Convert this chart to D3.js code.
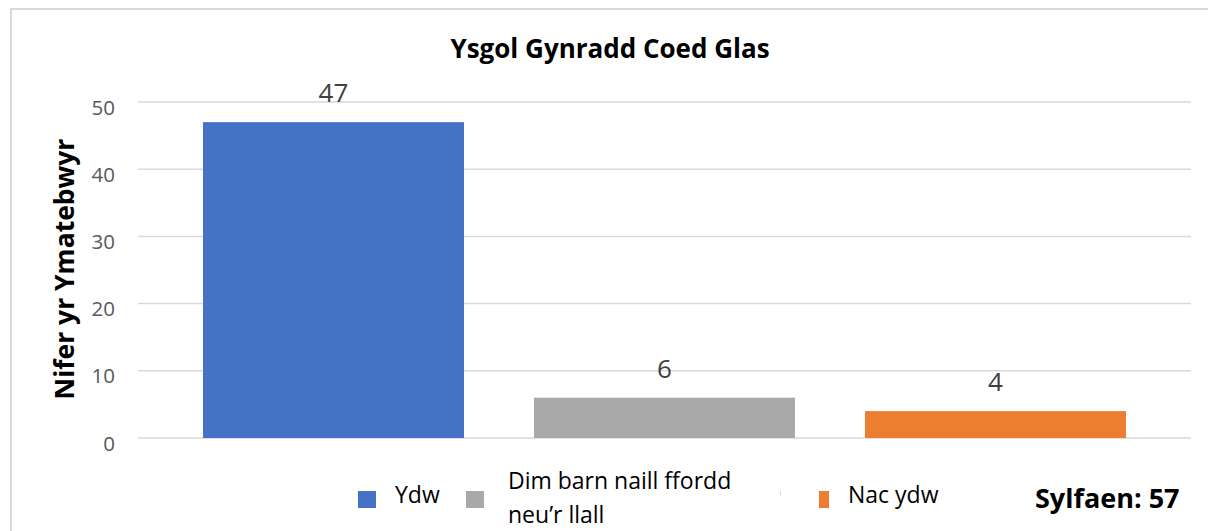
<!DOCTYPE html>
<html>
<head>
<meta charset="utf-8">
<script src="https://cdn.jsdelivr.net/npm/d3@7"></script>
<style>
  body { margin: 0; background: #fff; }
  text { font-family: "Open Sans", "Noto Sans", sans-serif; }
</style>
</head>
<body>
<div id="chart"></div>
<script>
const categories = ["Ydw", "Dim barn naill ffordd neu’r llall", "Nac ydw"]
const values = [47, 6, 4]
const colors = ["#4472c4", "#a9a9a9", "#ed7d31"]
const yTicks = [0, 10, 20, 30, 40, 50]

const width = 1208
const height = 531

const svg = d3.select("#chart")
  .append("svg")
  .attr("width", width)
  .attr("height", height)

// outer frame (runs off the right and bottom edge, as in the source)
svg.append("rect")
  .attr("x", 11).attr("y", 9)
  .attr("width", 1240).attr("height", 560)
  .attr("fill", "none")
  .attr("stroke", "#d9d9d9")
  .attr("stroke-width", 2)

const y = d3.scaleLinear()
  .domain([0, 50])
  .range([438, 102])

const x = d3.scaleBand()
  .domain(categories)
  .range([168, 1161])
  .paddingInner(0.2115)
  .paddingOuter(0.1057)

// gridlines
svg.append("g")
  .selectAll("line")
  .data(yTicks)
  .enter()
  .append("line")
  .attr("x1", 138).attr("x2", 1191)
  .attr("y1", d => y(d)).attr("y2", d => y(d))
  .attr("stroke", "#d9d9d9")
  .attr("stroke-width", 1.5)

const yAxis = svg.append("g")
  .attr("transform", "translate(130,5)")
  .call(d3.axisLeft(y).tickValues(yTicks).tickSize(0).tickPadding(15))
yAxis.select(".domain").remove()
yAxis.selectAll("text")
  .attr("fill", "#595959")
  .style("font-size", "20.5px")
  .attr("dy", "0.35em")

// bars
svg.append("g")
  .selectAll("rect")
  .data(values)
  .enter()
  .append("rect")
  .attr("x", (d, i) => x(categories[i]))
  .attr("y", d => y(d))
  .attr("width", x.bandwidth())
  .attr("height", d => y(0) - y(d))
  .attr("fill", (d, i) => colors[i])

// value labels
svg.append("g")
  .selectAll("text")
  .data(values)
  .enter()
  .append("text")
  .attr("x", (d, i) => x(categories[i]) + x.bandwidth() / 2)
  .attr("y", d => y(d) - 20)
  .attr("text-anchor", "middle")
  .attr("fill", "#404040")
  .style("font-size", "26px")
  .text(d => d)

// title
svg.append("text")
  .attr("x", 610).attr("y", 58)
  .attr("text-anchor", "middle")
  .style("font-size", "26px")
  .style("font-weight", "bold")
  .text("Ysgol Gynradd Coed Glas")

// y axis title
svg.append("text")
  .attr("transform", "translate(74,269) rotate(-90)")
  .attr("text-anchor", "middle")
  .style("font-size", "26.5px")
  .style("font-weight", "bold")
  .text("Nifer yr Ymatebwyr")

// legend
const legend = [
  { sx: 358, sw: 18, tx: 395, lines: [categories[0]], ty: 503 },
  { sx: 466, sw: 18, tx: 508, lines: ["Dim barn naill ffordd", "neu’r llall"], ty: 489 },
  { sx: 819, sw: 10, tx: 848, lines: [categories[2]], ty: 503 }
]
const lg = svg.append("g")
lg.selectAll("rect")
  .data(legend)
  .enter()
  .append("rect")
  .attr("x", d => d.sx).attr("y", 491)
  .attr("width", d => d.sw).attr("height", 17)
  .attr("fill", (d, i) => colors[i])

// tiny stray mark left of the orange key
lg.append("rect")
  .attr("x", 780).attr("y", 492)
  .attr("width", 1).attr("height", 3)
  .attr("fill", "#d0d0d0")

lg.selectAll("text")
  .data(legend)
  .enter()
  .append("text")
  .attr("x", d => d.tx)
  .attr("y", d => d.ty)
  .style("font-size", "23px")
  .attr("fill", "#000")
  .each(function (d) {
    d3.select(this).selectAll("tspan")
      .data(d.lines)
      .enter()
      .append("tspan")
      .attr("x", d.tx)
      .attr("dy", (l, j) => j === 0 ? 0 : 34)
      .text(l => l)
  })

svg.append("text")
  .attr("x", 1035).attr("y", 508)
  .style("font-size", "27px")
  .style("font-weight", "bold")
  .text("Sylfaen: 57")
</script>
</body>
</html>
